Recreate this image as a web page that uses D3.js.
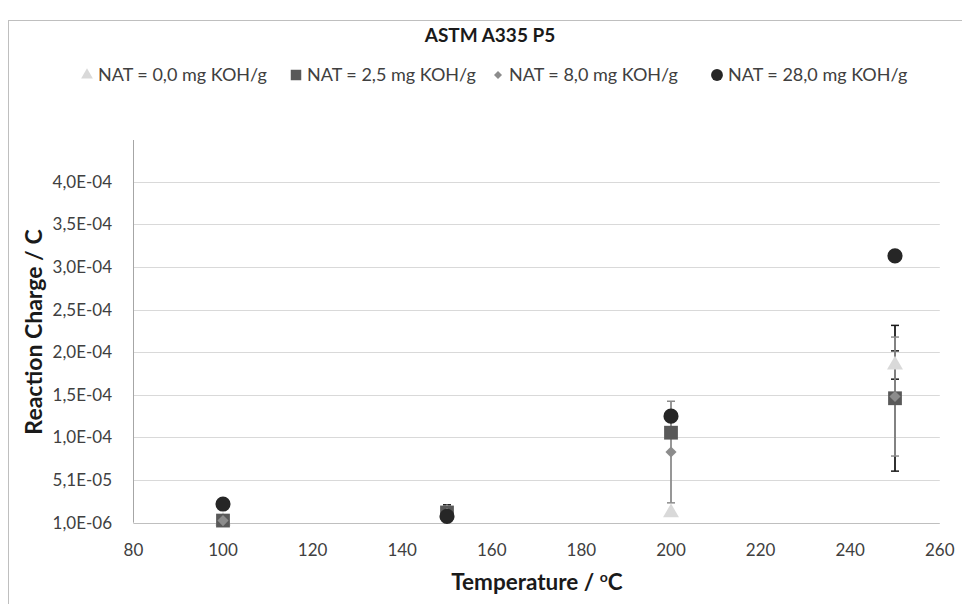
<!DOCTYPE html>
<html><head><meta charset="utf-8">
<script src="https://cdn.jsdelivr.net/npm/d3@7"></script>
<style>body{margin:0;background:#fff}svg{display:block;font-family:Lato,"Open Sans",sans-serif}</style>
</head><body>
<svg id="c" width="962" height="604"></svg>
<script>
const temps = [100, 150, 200, 250];
const seriesNames = ["NAT = 0,0 mg KOH/g", "NAT = 2,5 mg KOH/g", "NAT = 8,0 mg KOH/g", "NAT = 28,0 mg KOH/g"];
const nat0  = [3.0e-6, 1.2e-5, 1.27e-5, 1.86e-4];
const nat25 = [3.5e-6, 1.3e-5, 1.066e-4, 1.47e-4];
const nat8  = [3.5e-6, 1.2e-5, 8.39e-5, 1.49e-4];
const nat28 = [2.29e-5, 8.5e-6, 1.26e-4, 3.14e-4];
const nat0Err  = [0, 0, 0, 1.66e-5];
const nat25Err = [0, 9.0e-6, 0, 8.55e-5];
const nat8Err  = [0, 0, 5.96e-5, 6.98e-5];
const nat28Err = [0, 0, 0, 0];
const xTicks = [80, 100, 120, 140, 160, 180, 200, 220, 240, 260];
const yTicks = [1e-6, 5.1e-5, 1.01e-4, 1.51e-4, 2.01e-4, 2.51e-4, 3.01e-4, 3.51e-4, 4.01e-4];
const yTickLabels = ["1,0E-06", "5,1E-05", "1,0E-04", "1,5E-04", "2,0E-04", "2,5E-04", "3,0E-04", "3,5E-04", "4,0E-04"];

const svg = d3.select("#c");
const x = d3.scaleLinear().domain([80, 260]).range([133.4, 939.8]);
const y = d3.scaleLinear().domain([1e-6, 4.5e-4]).range([522.7, 140]);

const series = [
  {name: seriesNames[0], vals: nat0, err: nat0Err, shape: "triangle", color: "#d9d9d9", errColor: "#1a1a1a"},
  {name: seriesNames[1], vals: nat25, err: nat25Err, shape: "square", color: "#595959", errColor: "#1a1a1a"},
  {name: seriesNames[2], vals: nat8, err: nat8Err, shape: "diamond", color: "#8c8c8c", errColor: "#8c8c8c"},
  {name: seriesNames[3], vals: nat28, err: nat28Err, shape: "circle", color: "#262626", errColor: "#1a1a1a"}
];

// chart border
svg.append("rect").attr("x", 8.5).attr("y", 20.5).attr("width", 980).attr("height", 620)
  .attr("fill", "none").attr("stroke", "#bfbfbf").attr("stroke-width", 1);

// gridlines
svg.append("g").selectAll("line").data(yTicks.slice(1)).join("line")
  .attr("x1", x(80)).attr("x2", x(260))
  .attr("y1", d => Math.round(y(d)) + 0.5).attr("y2", d => Math.round(y(d)) + 0.5)
  .attr("stroke", "#d9d9d9").attr("stroke-width", 1);

// axes lines
svg.append("line").attr("x1", x(80)).attr("x2", x(260))
  .attr("y1", Math.round(y(1e-6)) + 0.5).attr("y2", Math.round(y(1e-6)) + 0.5)
  .attr("stroke", "#bfbfbf");
svg.append("line").attr("x1", Math.round(x(80)) + 0.5).attr("x2", Math.round(x(80)) + 0.5)
  .attr("y1", y(4.5e-4)).attr("y2", y(1e-6))
  .attr("stroke", "#a6a6a6");

// y tick labels
svg.append("g").selectAll("text").data(yTicks).join("text")
  .attr("x", 112).attr("y", d => y(d)).attr("dy", "0.35em")
  .attr("text-anchor", "end").attr("font-size", 17).attr("fill", "#404040")
  .text((d, i) => yTickLabels[i]);

// x tick labels
svg.append("g").selectAll("text").data(xTicks).join("text")
  .attr("x", d => x(d)).attr("y", 556)
  .attr("text-anchor", "middle").attr("font-size", 17).attr("fill", "#404040")
  .text(d => d);

// titles
svg.append("text").attr("x", 490).attr("y", 42).attr("text-anchor", "middle")
  .attr("font-size", 19).attr("font-weight", "bold").attr("fill", "#1a1a1a").text("ASTM A335 P5");
const xt = svg.append("text").attr("x", 537).attr("y", 590).attr("text-anchor", "middle")
  .attr("font-size", 22.5).attr("font-weight", "bold").attr("fill", "#1a1a1a");
xt.append("tspan").text("Temperature / ");
xt.append("tspan").attr("font-size", 14).attr("dy", -8).text("o");
xt.append("tspan").attr("dy", 8).text("C");
svg.append("text").attr("transform", "translate(42,332) rotate(-90)").attr("text-anchor", "middle")
  .attr("font-size", 23).attr("font-weight", "bold").attr("fill", "#1a1a1a").text("Reaction Charge / C");

function symbolPath(shape, size) {
  const t = {triangle: d3.symbolTriangle, square: d3.symbolSquare, diamond: d3.symbolSquare, circle: d3.symbolCircle}[shape];
  return d3.symbol().type(t).size(size)();
}
const markerSize = {triangle: 110, square: 190, diamond: 62, circle: 180};
const rot = s => s === "diamond" ? " rotate(45)" : "";

// error bars (under markers)
const eb = svg.append("g");
series.forEach(s => {
  s.vals.forEach((v, i) => {
    const e = s.err[i];
    if (!e) return;
    const cx = x(temps[i]);
    eb.append("line").attr("x1", cx).attr("x2", cx).attr("y1", y(v + e)).attr("y2", y(v - e))
      .attr("stroke", s.errColor).attr("stroke-width", 1.8);
    [v + e, v - e].forEach(b => {
      eb.append("line").attr("x1", cx - 4).attr("x2", cx + 4).attr("y1", y(b)).attr("y2", y(b))
        .attr("stroke", s.errColor).attr("stroke-width", 1.5);
    });
  });
});

// markers
series.forEach(s => {
  svg.append("g").selectAll("path").data(s.vals).join("path")
    .attr("transform", (d, i) => `translate(${x(temps[i])},${y(d)})` + rot(s.shape))
    .attr("d", symbolPath(s.shape, markerSize[s.shape]))
    .attr("fill", s.color);
});

// legend
const legX = [87, 296, 498, 717];
const legSize = {triangle: 60, square: 110, diamond: 32, circle: 110};
series.forEach((s, i) => {
  const g = svg.append("g").attr("transform", `translate(${legX[i]},75)`);
  g.append("path").attr("d", symbolPath(s.shape, legSize[s.shape]))
    .attr("transform", rot(s.shape).trim() || null).attr("fill", s.color);
  g.append("text").attr("x", 11).attr("dy", "0.35em").attr("font-size", 18)
    .attr("fill", "#404040").text(s.name);
});
</script>
</body></html>
